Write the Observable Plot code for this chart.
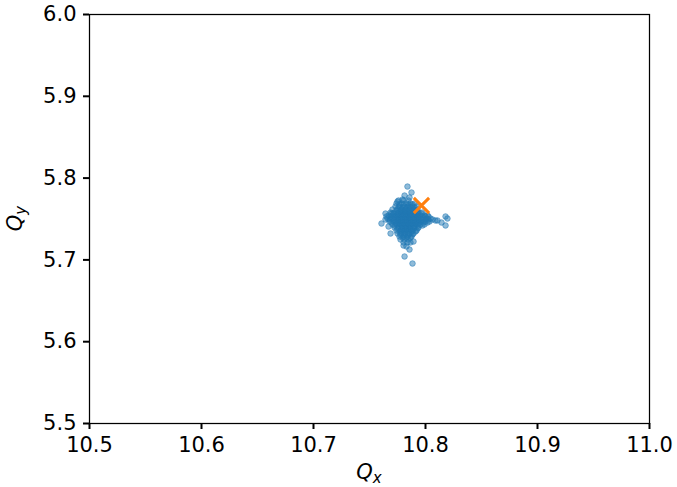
<!DOCTYPE html>
<html>
<head>
<meta charset="utf-8">
<script src="https://cdn.jsdelivr.net/npm/d3@7"></script>
<script src="https://cdn.jsdelivr.net/npm/@observablehq/plot@0.6"></script>
<style>
  body { margin: 0; background: #fff; }
  #chart { width: 677px; height: 487px; }
</style>
</head>
<body>
<div id="chart"></div>
<script>
// Axis ticks
const xTicks = [10.5, 10.6, 10.7, 10.8, 10.9, 11.0];
const yTicks = [5.5, 5.6, 5.7, 5.8, 5.9, 6.0];

// Tune footprint of the tracked particles: [Qx, Qy]
const particles = [
  // core rows
  [10.7759, 5.7726], [10.7804, 5.7726], [10.7848, 5.7726],
  [10.7741, 5.7689], [10.7786, 5.7689], [10.7830, 5.7689], [10.7866, 5.7689], [10.7902, 5.7689],
  [10.7732, 5.7653], [10.7768, 5.7653], [10.7813, 5.7653], [10.7848, 5.7653], [10.7884, 5.7653], [10.7920, 5.7653],
  [10.7705, 5.7616], [10.7750, 5.7616], [10.7786, 5.7616], [10.7821, 5.7616], [10.7857, 5.7616], [10.7893, 5.7616], [10.7929, 5.7616],
  [10.7688, 5.7579], [10.7723, 5.7579], [10.7759, 5.7579], [10.7795, 5.7579], [10.7830, 5.7579], [10.7866, 5.7579], [10.7902, 5.7579], [10.7938, 5.7579], [10.7973, 5.7579],
  [10.7670, 5.7543], [10.7705, 5.7543], [10.7741, 5.7543], [10.7777, 5.7543], [10.7813, 5.7543], [10.7848, 5.7543], [10.7884, 5.7543], [10.7920, 5.7543], [10.7955, 5.7543], [10.7991, 5.7543], [10.8018, 5.7543],
  [10.7661, 5.7506], [10.7696, 5.7506], [10.7732, 5.7506], [10.7768, 5.7506], [10.7804, 5.7506], [10.7839, 5.7506], [10.7875, 5.7506], [10.7911, 5.7506], [10.7946, 5.7506], [10.7982, 5.7506], [10.8009, 5.7506], [10.8045, 5.7506],
  [10.7679, 5.7469], [10.7714, 5.7469], [10.7750, 5.7469], [10.7786, 5.7469], [10.7821, 5.7469], [10.7857, 5.7469], [10.7893, 5.7469], [10.7929, 5.7469], [10.7964, 5.7469], [10.8000, 5.7469], [10.8036, 5.7469],
  [10.7705, 5.7433], [10.7741, 5.7433], [10.7777, 5.7433], [10.7813, 5.7433], [10.7848, 5.7433], [10.7884, 5.7433], [10.7920, 5.7433], [10.7955, 5.7433], [10.7991, 5.7433],
  [10.7723, 5.7396], [10.7759, 5.7396], [10.7795, 5.7396], [10.7830, 5.7396], [10.7866, 5.7396], [10.7902, 5.7396], [10.7938, 5.7396],
  [10.7741, 5.7359], [10.7777, 5.7359], [10.7813, 5.7359], [10.7848, 5.7359], [10.7884, 5.7359], [10.7920, 5.7359],
  [10.7750, 5.7323], [10.7786, 5.7323], [10.7821, 5.7323], [10.7857, 5.7323], [10.7893, 5.7323],
  [10.7768, 5.7286], [10.7804, 5.7286], [10.7839, 5.7286], [10.7875, 5.7286],
  [10.7777, 5.7249], [10.7813, 5.7249], [10.7848, 5.7249],
  [10.7804, 5.7213], [10.7839, 5.7213],
  // dense centre
  [10.7777, 5.7592], [10.7813, 5.7592], [10.7848, 5.7592], [10.7884, 5.7592],
  [10.7759, 5.7555], [10.7795, 5.7555], [10.7830, 5.7555], [10.7866, 5.7555], [10.7902, 5.7555],
  [10.7750, 5.7518], [10.7786, 5.7518], [10.7821, 5.7518], [10.7857, 5.7518], [10.7893, 5.7518], [10.7929, 5.7518],
  [10.7759, 5.7482], [10.7795, 5.7482], [10.7830, 5.7482], [10.7866, 5.7482], [10.7902, 5.7482], [10.7938, 5.7482],
  [10.7768, 5.7445], [10.7804, 5.7445], [10.7839, 5.7445], [10.7875, 5.7445], [10.7911, 5.7445],
  [10.7786, 5.7408], [10.7821, 5.7408], [10.7857, 5.7408], [10.7893, 5.7408],
  [10.7795, 5.7372], [10.7830, 5.7372], [10.7866, 5.7372],
  // interleaved core rows
  [10.7768, 5.7677], [10.7804, 5.7677], [10.7848, 5.7677], [10.7884, 5.7677],
  [10.7759, 5.7641], [10.7795, 5.7641], [10.7830, 5.7641], [10.7866, 5.7641], [10.7902, 5.7641],
  [10.7741, 5.7604], [10.7777, 5.7604], [10.7813, 5.7604], [10.7848, 5.7604], [10.7884, 5.7604], [10.7920, 5.7604],
  [10.7714, 5.7567], [10.7750, 5.7567], [10.7786, 5.7567], [10.7821, 5.7567], [10.7857, 5.7567], [10.7893, 5.7567], [10.7929, 5.7567], [10.7964, 5.7567],
  [10.7688, 5.7531], [10.7723, 5.7531], [10.7759, 5.7531], [10.7795, 5.7531], [10.7830, 5.7531], [10.7866, 5.7531], [10.7902, 5.7531], [10.7938, 5.7531], [10.7973, 5.7531], [10.8000, 5.7531],
  [10.7679, 5.7494], [10.7714, 5.7494], [10.7750, 5.7494], [10.7786, 5.7494], [10.7821, 5.7494], [10.7857, 5.7494], [10.7893, 5.7494], [10.7929, 5.7494], [10.7964, 5.7494], [10.8000, 5.7494], [10.8027, 5.7494],
  [10.7696, 5.7457], [10.7732, 5.7457], [10.7768, 5.7457], [10.7804, 5.7457], [10.7839, 5.7457], [10.7875, 5.7457], [10.7911, 5.7457], [10.7946, 5.7457], [10.7982, 5.7457], [10.8018, 5.7457],
  [10.7723, 5.7421], [10.7759, 5.7421], [10.7795, 5.7421], [10.7830, 5.7421], [10.7866, 5.7421], [10.7902, 5.7421], [10.7938, 5.7421], [10.7973, 5.7421],
  [10.7750, 5.7384], [10.7786, 5.7384], [10.7821, 5.7384], [10.7857, 5.7384], [10.7893, 5.7384], [10.7929, 5.7384],
  [10.7768, 5.7347], [10.7804, 5.7347], [10.7839, 5.7347], [10.7875, 5.7347], [10.7911, 5.7347],
  [10.7777, 5.7311], [10.7813, 5.7311], [10.7848, 5.7311], [10.7884, 5.7311],
  [10.7795, 5.7274], [10.7830, 5.7274], [10.7866, 5.7274],
  // upper arm
  [10.7839, 5.7897], [10.7875, 5.7824], [10.7813, 5.7787], [10.7750, 5.7714], [10.7795, 5.7738], [10.7857, 5.7763],
  // left arm
  [10.7607, 5.7445], [10.7643, 5.7567], [10.7643, 5.7494], [10.7652, 5.7531], [10.7696, 5.7567], [10.7688, 5.7323], [10.7670, 5.7408],
  // lower arm
  [10.7804, 5.7176], [10.7866, 5.7213], [10.7857, 5.7127], [10.7813, 5.7042], [10.7884, 5.6956], [10.7893, 5.7225], [10.7830, 5.7164],
  // right arm
  [10.8027, 5.7531], [10.8063, 5.7494], [10.8089, 5.7482], [10.8107, 5.7482], [10.8143, 5.7457], [10.8179, 5.7531], [10.8179, 5.7421], [10.8196, 5.7506]
];

// Nominal working point
const nominal = [[10.7964, 5.7665]];

const fmt = d3.format(".1f");

const plot = Plot.plot({
  width: 677,
  height: 487,
  marginLeft: 89,
  marginRight: 28,
  marginTop: 14,
  marginBottom: 64,
  style: { fontFamily: "DejaVu Sans", fontSize: "21px", color: "black", background: "white", overflow: "visible" },
  x: { domain: [10.5, 11.0] },
  y: { domain: [5.5, 6.0] },
  marks: [
    Plot.dot(particles, {
      x: d => d[0], y: d => d[1], r: 2.8,
      fill: "#1f77b4", fillOpacity: 0.5,
      stroke: "#1f77b4", strokeOpacity: 0.5, strokeWidth: 1
    }),
    Plot.dot(nominal, {
      x: d => d[0], y: d => d[1], symbol: "times", r: 7,
      stroke: "#ff7f0e", strokeWidth: 3
    }),
    Plot.frame({ stroke: "black", strokeWidth: 1.25 }),
    Plot.axisX(xTicks, { tickSize: 6, tickPadding: 8, strokeWidth: 2, tickFormat: fmt, label: null, fontSize: 21 }),
    Plot.axisY(yTicks, { tickSize: 6, tickPadding: 7, strokeWidth: 2, tickFormat: fmt, label: null, fontSize: 21 })
  ]
});

document.getElementById("chart").appendChild(plot);

// Axis titles with italic Q and subscripts
const svg = d3.select(plot);
const xr = plot.scale("x").range;
const yr = plot.scale("y").range;
const cx = (xr[0] + xr[1]) / 2;
const cy = (yr[0] + yr[1]) / 2;

const xt = svg.append("text")
  .attr("x", cx).attr("y", 479)
  .attr("text-anchor", "middle")
  .attr("font-family", "DejaVu Sans").attr("font-size", 21).attr("fill", "black");
xt.append("tspan").attr("font-style", "italic").text("Q");
xt.append("tspan").attr("font-style", "italic").attr("font-size", 15).attr("dy", 4).text("x");

const yt = svg.append("text")
  .attr("transform", `translate(22,${cy}) rotate(-90)`)
  .attr("text-anchor", "middle")
  .attr("font-family", "DejaVu Sans").attr("font-size", 21).attr("fill", "black");
yt.append("tspan").attr("font-style", "italic").text("Q");
yt.append("tspan").attr("font-style", "italic").attr("font-size", 15).attr("dy", 4).text("y");
</script>
</body>
</html>
